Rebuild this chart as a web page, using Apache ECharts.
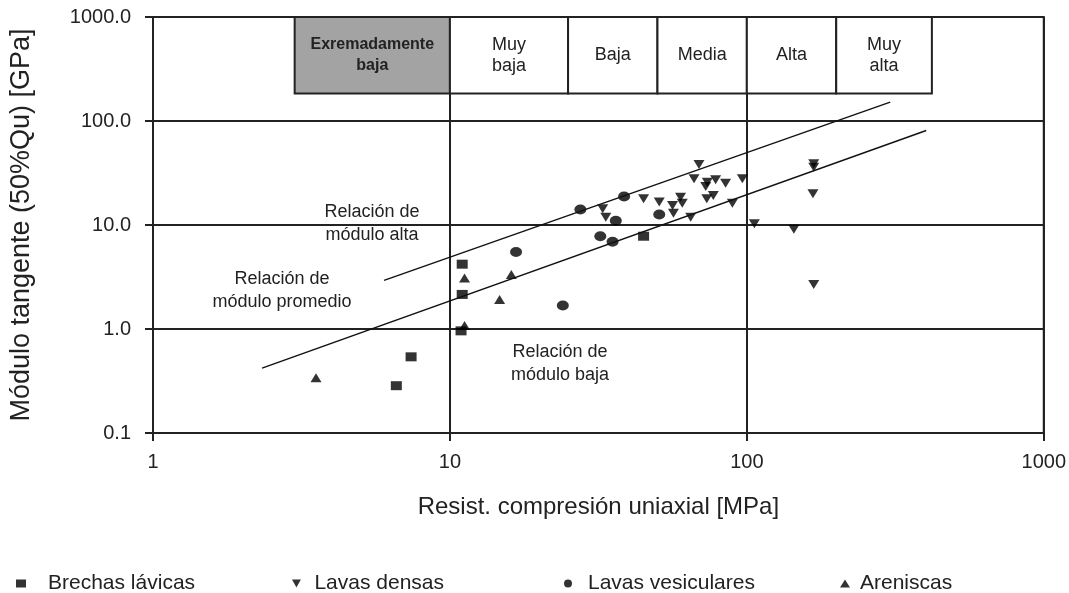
<!DOCTYPE html>
<html>
<head>
<meta charset="utf-8">
<script src="https://cdn.jsdelivr.net/npm/echarts@6/dist/echarts.min.js"></script>
<style>
  html, body { margin: 0; padding: 0; background: #fff; }
  #chart { width: 1069px; height: 593px; }
</style>
</head>
<body>
<div id="chart"></div>
<script>
// Datos [UCS MPa, E GPa]
const brechasLavicas = [[11.0, 4.2], [11.0, 2.15], [10.9, 0.96], [44.9, 7.8], [7.4, 0.54], [6.6, 0.285]];
const lavasDensas = [
  [32.7, 14.3], [33.5, 11.9], [44.9, 17.9], [50.7, 16.6], [56.2, 15.4], [56.6, 13.0],
  [59.8, 18.5], [60.6, 16.2], [64.7, 11.9], [66.4, 27.8], [69.0, 38.2], [72.7, 23.5],
  [73.6, 25.8], [73.3, 17.9], [77.1, 19.2], [78.5, 27.2], [84.8, 25.2], [89.4, 16.2],
  [96.6, 27.8], [106, 10.3], [144, 9.1], [168, 38.8], [168, 36.0], [167, 20.0], [168, 2.68]
];
const lavasVesiculares = [[16.7, 5.5], [24.0, 1.68], [27.5, 14.1], [38.6, 18.8], [36.2, 11.0], [32.1, 7.8], [35.3, 6.9], [50.7, 12.6]];
const areniscas = [[11.2, 3.1], [16.1, 3.34], [14.7, 1.92], [11.2, 1.08], [3.54, 0.34]];

// Rectas de relación de módulo
const lineaAlta = [[6.0, 2.93], [304, 152]];
const lineaPromedio = [[2.33, 0.42], [402, 81]];

// Clasificación por resistencia (límites en MPa) y rango vertical de la tabla
const claseLimites = [3, 10, 25, 50, 100, 200, 420];
const claseNombres = ['Exremadamente\nbaja', 'Muy\nbaja', 'Baja', 'Media', 'Alta', 'Muy\nalta'];
const claseYRango = [184, 1000];

const xTicks = [1, 10, 100, 1000];
const yTicks = [0.1, 1, 10, 100, 1000];

const FONT = '"Liberation Sans", Arial, sans-serif';
const INK = '#222';
const downTri = 'path://M0,0 L10,0 L5,9 Z';

const chart = echarts.init(document.getElementById('chart'));

const areas = claseNombres.map((name, i) => [
  {
    xAxis: claseLimites[i], yAxis: claseYRango[0], name: name,
    itemStyle: { color: i === 0 ? '#a3a3a3' : '#fff' },
    label: i === 0 ? { fontWeight: 'bold', fontSize: 16, lineHeight: 21 } : {}
  },
  { xAxis: claseLimites[i + 1], yAxis: claseYRango[1] }
]);

// leyendas separadas: [nombre, icono, left, separación del texto]
const leyendas = [
  ['Brechas lávicas', 'rect', 11, 17],
  ['Lavas densas', downTri, 287, 8],
  ['Lavas vesiculares', 'circle', 559, 10],
  ['Areniscas', 'triangle', 835, 5]
];

const note = (x, y, text) => ({
  type: 'text', x: x, y: y,
  style: { text: text, font: '18px ' + FONT, fill: INK, align: 'center', verticalAlign: 'middle', lineHeight: 23 }
});

const option = {
  animation: false,
  backgroundColor: '#fff',
  textStyle: { fontFamily: FONT },
  grid: { left: 153, right: 22, top: 17, bottom: 160, show: true, borderColor: INK, borderWidth: 2 },
  xAxis: {
    type: 'log', logBase: 10, min: xTicks[0], max: xTicks[xTicks.length - 1],
    name: 'Resist. compresión uniaxial [MPa]', nameLocation: 'middle', nameGap: 62,
    nameTextStyle: { fontSize: 24, color: INK, fontFamily: FONT },
    axisLine: { lineStyle: { color: INK, width: 2 } },
    axisTick: { show: true, length: 8, lineStyle: { color: INK, width: 2 } },
    axisLabel: { fontSize: 20, color: INK, margin: 19, formatter: v => String(Math.round(v)) },
    splitLine: { show: true, lineStyle: { color: INK, width: 2 } },
    minorTick: { show: false }
  },
  yAxis: {
    type: 'log', logBase: 10, min: yTicks[0], max: yTicks[yTicks.length - 1],
    name: 'Módulo tangente (50%Qu) [GPa]', nameLocation: 'middle', nameGap: 118,
    nameTextStyle: { fontSize: 27, color: INK, fontFamily: FONT },
    axisLine: { lineStyle: { color: INK, width: 2 } },
    axisTick: { show: true, length: 8, lineStyle: { color: INK, width: 2 } },
    axisLabel: { fontSize: 20, color: INK, margin: 22, formatter: v => Number(v).toFixed(1) },
    splitLine: { show: true, lineStyle: { color: INK, width: 2 } }
  },
  legend: leyendas.map(l => ({
    data: [{ name: l[0], icon: l[1] }],
    left: l[2], top: 568, itemWidth: 10, itemHeight: 8,
    textStyle: { fontSize: 21, color: INK, fontFamily: FONT, padding: [0, 0, 0, l[3]] }
  })),
  series: [
    {
      type: 'scatter', name: 'clases', data: [], silent: true,
      markArea: {
        silent: true,
        itemStyle: { borderColor: INK, borderWidth: 2 },
        label: { show: true, position: 'inside', color: INK, fontSize: 18, fontFamily: FONT, lineHeight: 21 },
        data: areas
      }
    },
    { type: 'line', data: lineaAlta, symbol: 'none', lineStyle: { color: '#111', width: 1.4 }, silent: true },
    { type: 'line', data: lineaPromedio, symbol: 'none', lineStyle: { color: '#111', width: 1.4 }, silent: true },
    { type: 'scatter', name: 'Brechas lávicas', data: brechasLavicas, symbol: 'rect', symbolSize: [11, 9], itemStyle: { color: '#000' } },
    { type: 'scatter', name: 'Lavas densas', data: lavasDensas, symbol: downTri, symbolSize: [11, 9], itemStyle: { color: '#000' } },
    { type: 'scatter', name: 'Lavas vesiculares', data: lavasVesiculares, symbol: 'circle', symbolSize: [12, 10], itemStyle: { color: '#000' } },
    { type: 'scatter', name: 'Areniscas', data: areniscas, symbol: 'triangle', symbolSize: [11, 9], itemStyle: { color: '#000' } }
  ],
  graphic: [
    note(372, 224, 'Relación de\nmódulo alta'),
    note(282, 291, 'Relación de\nmódulo promedio'),
    note(560, 364, 'Relación de\nmódulo baja')
  ]
};

chart.setOption(option);
</script>
</body>
</html>
